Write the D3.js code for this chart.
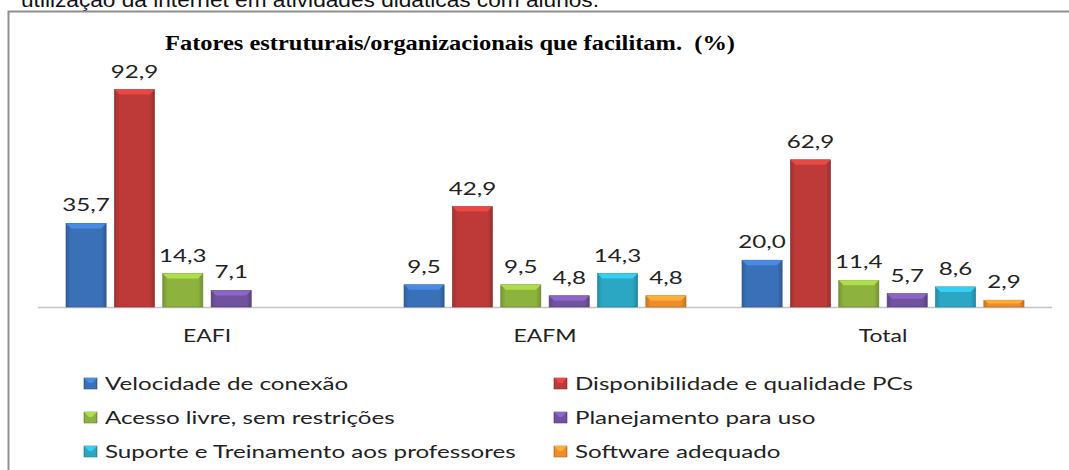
<!DOCTYPE html>
<html>
<head>
<meta charset="utf-8">
<script src="https://cdn.jsdelivr.net/npm/d3@7"></script>
<style>
body{margin:0;background:#fff;}
svg{display:block;}
.lbl{font-family:Lato,"Open Sans",sans-serif;fill:#222;}
</style>
</head>
<body>
<svg id="chart"></svg>
<script>
// data
var categories = ["EAFI","EAFM","Total"]
var seriesNames = ["Velocidade de conexão","Disponibilidade e qualidade PCs","Acesso livre, sem restrições","Planejamento para uso","Suporte e Treinamento aos professores","Software adequado"]
var velocidade = [35.7, 9.5, 20.0]
var disponibilidade = [92.9, 42.9, 62.9]
var acesso = [14.3, 9.5, 11.4]
var planejamento = [7.1, 4.8, 5.7]
var suporte = [null, 14.3, 8.6]
var software = [null, 4.8, 2.9]
var seriesValues = [velocidade,disponibilidade,acesso,planejamento,suporte,software]
var colors = ["#3a70b8","#bd3a38","#8db33e","#7152a0","#2ba7c4","#ef8d2c"]

var screen = {width:1069,height:470}
var svg = d3.select("#chart")
    .attr("width",screen.width)
    .attr("height",screen.height)

var stretchText = function(sel,k)
{
    sel.each(function(){
        var len = this.getComputedTextLength()
        d3.select(this).attr("textLength",len*k)
            .attr("lengthAdjust","spacingAndGlyphs")
    })
}

// partial caption line above the frame (cut by the page edge, as in the source)
svg.append("text")
    .text("utilização da internet em atividades didáticas com alunos.")
    .attr("x",21)
    .attr("y",7)
    .attr("textLength",578)
    .attr("lengthAdjust","spacingAndGlyphs")
    .style("font-family","'Liberation Sans',Arial,sans-serif")
    .style("font-size","21px")
    .attr("fill","#111")

// frame
svg.append("path")
    .attr("d","M8.5,"+screen.height+" L8.5,11.5 L"+screen.width+",11.5")
    .attr("fill","none")
    .attr("stroke","#8f8f8f")
    .attr("stroke-width",2)

// title
svg.append("text")
    .text("Fatores estruturais/organizacionais que facilitam.  (%)")
    .attr("x",165)
    .attr("y",50)
    .attr("textLength",570)
    .attr("lengthAdjust","spacingAndGlyphs")
    .style("font-family","'Liberation Serif','Times New Roman',serif")
    .style("font-weight","bold")
    .style("font-size","22px")
    .style("white-space","pre")
    .attr("fill","#000")

var xScale = d3.scaleBand()
    .domain(categories)
    .range([38,1052])
var x1 = d3.scaleBand()
    .domain(d3.range(seriesNames.length))
    .range([28,310])
    .paddingInner(0.17)
var yScale = d3.scaleLinear()
    .domain([0,100])
    .range([307,73])

// gradients
var defs = svg.append("defs")
colors.forEach(function(c,i){
    var g = defs.append("linearGradient")
        .attr("id","grad"+i)
        .attr("x1","0").attr("x2","1").attr("y1","0").attr("y2","0")
    var base = d3.color(c)
    g.append("stop").attr("offset","0%").attr("stop-color",base.darker(0.5))
    g.append("stop").attr("offset","12%").attr("stop-color",base)
    g.append("stop").attr("offset","88%").attr("stop-color",base)
    g.append("stop").attr("offset","100%").attr("stop-color",base.darker(0.6))
})

// axis line
svg.append("line")
    .attr("x1",xScale.range()[0])
    .attr("x2",xScale.range()[1])
    .attr("y1",yScale(0)+0.5)
    .attr("y2",yScale(0)+0.5)
    .attr("stroke","#c4c4c4")
    .attr("stroke-width",1.5)

var fmt = function(v){ return d3.format(".1f")(v).replace(".",","); }

var barData = []
seriesValues.forEach(function(vals,s){
    vals.forEach(function(v,c){
        if(v!==null) barData.push({s:s,c:c,v:v})
    })
})

var bars = svg.append("g").selectAll("g")
    .data(barData)
    .enter()
    .append("g")

var bx = function(d){ return xScale(categories[d.c])+x1(d.s); }
var bw = x1.bandwidth()

bars.append("rect")
    .attr("x",bx)
    .attr("y",function(d){ return yScale(d.v); })
    .attr("width",bw)
    .attr("height",function(d){ return yScale(0)-yScale(d.v); })
    .attr("fill",function(d){ return "url(#grad"+d.s+")"; })
    .attr("stroke",function(d){ return d3.color(colors[d.s]).darker(0.8); })
    .attr("stroke-width",0.6)

// top bevel
bars.append("path")
    .attr("d",function(d){
        var x = bx(d), y = yScale(d.v)
        var b = Math.min(5,(yScale(0)-y)/2)
        return "M"+x+","+y+" L"+(x+bw)+","+y+" L"+(x+bw-5)+","+(y+b)+" L"+(x+5)+","+(y+b)+" Z"
    })
    .attr("fill",function(d){ return d3.color(colors[d.s]).brighter(0.6); })

// value labels
svg.append("g").selectAll("text")
    .data(barData)
    .enter()
    .append("text")
    .classed("lbl",true)
    .text(function(d){ return fmt(d.v); })
    .attr("x",function(d){ return bx(d)+bw/2; })
    .attr("y",function(d){ return yScale(d.v)-12; })
    .attr("text-anchor","middle")
    .style("font-size","17px")
    .call(stretchText,1.42)

// category labels
svg.append("g").selectAll("text")
    .data(categories)
    .enter()
    .append("text")
    .classed("lbl",true)
    .text(function(d){ return d; })
    .attr("x",function(d){ return xScale(d)+xScale.bandwidth()/2; })
    .attr("y",342)
    .attr("text-anchor","middle")
    .style("font-size","17px")
    .call(stretchText,1.35)

// legend
var legend = svg.append("g")
var entries = legend.selectAll("g")
    .data(seriesNames)
    .enter()
    .append("g")
    .attr("transform",function(d,i){
        return "translate("+(i%2===0?84:554)+","+(390+Math.floor(i/2)*34)+")";
    })
entries.append("rect")
    .attr("x",0)
    .attr("y",-12)
    .attr("width",13)
    .attr("height",11)
    .attr("fill",function(d,i){ return "url(#grad"+i+")"; })
    .attr("stroke",function(d,i){ return d3.color(colors[i]).darker(0.8); })
    .attr("stroke-width",0.6)
entries.append("path")
    .attr("d","M0,-12 L13,-12 L8,-7 L5,-7 Z")
    .attr("fill",function(d,i){ return d3.color(colors[i]).brighter(0.6); })
entries.append("text")
    .classed("lbl",true)
    .text(function(d){ return d; })
    .attr("x",21)
    .attr("y",0)
    .style("font-size","17px")
    .call(stretchText,1.42)
</script>
</body>
</html>
